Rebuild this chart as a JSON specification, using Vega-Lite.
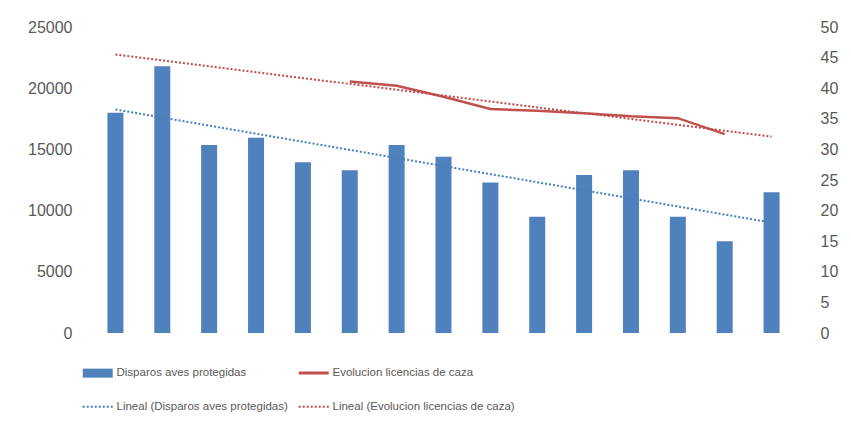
{
  "$schema": "https://vega.github.io/schema/vega-lite/v6.json",
  "width": 713,
  "height": 306,
  "autosize": "none",
  "padding": {"left": 87, "top": 27, "right": 51, "bottom": 101},
  "background": "white",
  "config": {
    "view": {"stroke": null},
    "font": "Liberation Sans",
    "axis": {"grid": false, "ticks": false, "domain": false, "labelColor": "#595959", "labelFontSize": 16, "title": null, "labelOverlap": false}
  },
  "data": {
    "values": [
      {"x": 1, "disparos": 18000, "licencias": null},
      {"x": 2, "disparos": 21800, "licencias": null},
      {"x": 3, "disparos": 15350, "licencias": null},
      {"x": 4, "disparos": 15950, "licencias": null},
      {"x": 5, "disparos": 13950, "licencias": null},
      {"x": 6, "disparos": 13300, "licencias": 41.1},
      {"x": 7, "disparos": 15350, "licencias": 40.4},
      {"x": 8, "disparos": 14400, "licencias": 38.6},
      {"x": 9, "disparos": 12300, "licencias": 36.6},
      {"x": 10, "disparos": 9500, "licencias": 36.3},
      {"x": 11, "disparos": 12900, "licencias": 35.9},
      {"x": 12, "disparos": 13300, "licencias": 35.4},
      {"x": 13, "disparos": 9500, "licencias": 35.1},
      {"x": 14, "disparos": 7500, "licencias": 32.5},
      {"x": 15, "disparos": 11500, "licencias": null}
    ]
  },
  "encoding": {
    "x": {"field": "x", "type": "quantitative", "scale": {"domain": [0.5, 15.5], "nice": false, "zero": false}, "axis": null}
  },
  "layer": [
    {
      "layer": [
        {
          "mark": {"type": "bar", "width": 16},
          "encoding": {
            "y": {"field": "disparos", "type": "quantitative", "scale": {"domain": [0, 25000], "nice": false},
              "axis": {"orient": "left", "values": [0, 5000, 10000, 15000, 20000, 25000], "format": "d", "labelPadding": 15, "labelOverlap": false}},
            "color": {
              "datum": "Disparos aves protegidas",
              "type": "nominal",
              "scale": {
                "domain": ["Disparos aves protegidas", "Evolucion licencias de caza", "Lineal (Disparos aves protegidas)", "Lineal (Evolucion licencias de caza)"],
                "range": ["#4f81bd", "#c0504d", "#4a7ebb", "#be4b48"]
              },
              "legend": {
                "orient": "none",
                "legendX": 5,
                "legendY": 340,
                "columns": 2,
                "direction": "horizontal",
                "title": null,
                "symbolType": "stroke",
                "symbolSize": 900,
                "symbolStrokeWidth": 2,
                "labelFont": "Liberation Sans",
                "labelFontSize": 11.5,
                "labelColor": "#595959",
                "labelOffset": 13,
                "columnPadding": 4,
                "rowPadding": 21,
                "labelLimit": 400,
                "encode": {
                  "symbols": {
                    "update": {
                      "shape": {"signal": "datum.index === 0 ? 'M-1,-0.3H1V0.3H-1Z' : 'stroke'"},
                      "strokeDash": {"signal": "datum.index >= 2 ? [2, 2] : [1, 0]"},
                      "fill": {"signal": "datum.index === 0 ? '#4f81bd' : 'transparent'"},
                      "stroke": {"signal": "datum.index === 0 ? 'transparent' : (datum.index === 1 ? '#c0504d' : (datum.index === 2 ? '#4a7ebb' : '#be4b48'))"},
                      "strokeWidth": {"signal": "datum.index === 0 ? 0 : (datum.index >= 2 ? 2 : 3)"},
                      "opacity": {"value": 1}
                    }
                  }
                }
              }
            }
          }
        },
        {
          "transform": [
            {"filter": "isValid(datum.disparos)"},
            {"regression": "disparos", "on": "x", "extent": [1, 15]}
          ],
          "mark": {"type": "line", "strokeDash": [2, 2], "strokeWidth": 2},
          "encoding": {
            "y": {"field": "disparos", "type": "quantitative"},
            "color": {"datum": "Lineal (Disparos aves protegidas)", "type": "nominal"}
          }
        }
      ]
    },
    {
      "layer": [
        {
          "transform": [{"filter": "isValid(datum.licencias)"}],
          "mark": {"type": "line", "strokeWidth": 2.5},
          "encoding": {
            "y": {"field": "licencias", "type": "quantitative", "scale": {"domain": [0, 50], "nice": false},
              "axis": {"orient": "right", "values": [0, 5, 10, 15, 20, 25, 30, 35, 40, 45, 50], "labelPadding": 20, "labelOverlap": false, "labelBound": false, "tickCount": 11}},
            "color": {"datum": "Evolucion licencias de caza", "type": "nominal"}
          }
        },
        {
          "transform": [
            {"filter": "isValid(datum.licencias)"},
            {"regression": "licencias", "on": "x", "extent": [1, 15]}
          ],
          "mark": {"type": "line", "strokeDash": [2, 2], "strokeWidth": 2},
          "encoding": {
            "y": {"field": "licencias", "type": "quantitative"},
            "color": {"datum": "Lineal (Evolucion licencias de caza)", "type": "nominal"}
          }
        }
      ]
    }
  ],
  "resolve": {"scale": {"y": "independent"}}
}
